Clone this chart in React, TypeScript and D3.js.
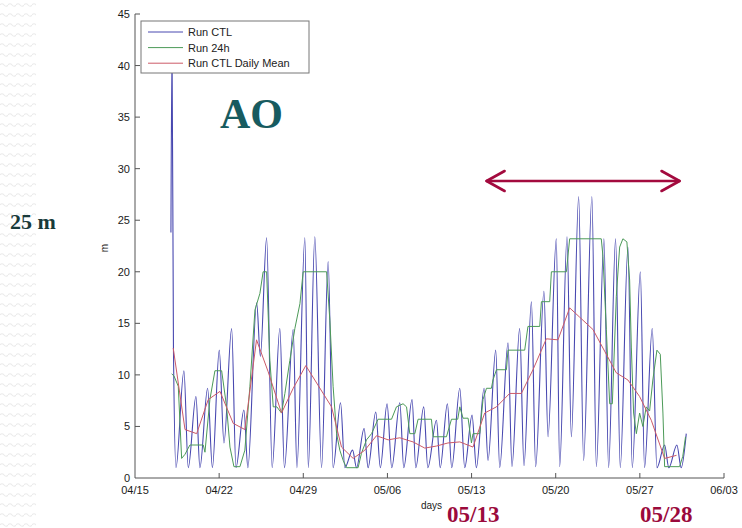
import React from "react";
import * as d3 from "d3";

// ---------- data ----------
const xTickDays = [0, 7, 14, 21, 28, 35, 42, 49];
const xTickLabels = ["04/15", "04/22", "04/29", "05/06", "05/13", "05/20", "05/27", "06/03"];
const yTicks = [0, 5, 10, 15, 20, 25, 30, 35, 40, 45];

// Run CTL (days since 04/15, metres) - peaks and troughs
const ctlDays = [
  2.99, 3.08, 3.2, 3.41, 4.07, 4.43, 5.07, 5.4, 6.04, 6.44, 7.01, 7.4, 8.04, 8.4, 9.06, 9.39,
  10.12, 10.43, 10.95, 11.41, 12.05, 12.43, 13.16, 13.47, 14.13, 14.42, 14.96, 15.52, 16.07, 16.48,
  17.1, 17.46, 18.1, 18.43, 19.06, 19.39, 20.03, 20.41, 20.97, 21.36, 22.03, 22.36, 23.05, 23.36,
  24.02, 24.36, 25.08, 25.39, 25.99, 26.35, 27.02, 27.43, 28.04, 28.4, 29.04, 29.37, 30.01, 30.34,
  31.03, 31.36, 32.0, 32.36, 32.98, 33.33, 34.02, 34.36, 35.05, 35.33, 35.94, 36.3, 36.91, 37.32,
  38.01, 38.38, 39.01, 39.4, 39.98, 40.37, 41.01, 41.37, 42.04, 42.39, 43.03, 43.42, 44.06, 44.41,
  45.08, 45.44, 45.86,
];
const ctlValues = [
  23.8, 42, 12.5, 1.0, 10.4, 1.0, 7.9, 1.0, 8.7, 1.0, 12.4, 3.4, 14.5, 1.0, 6.6, 1.0,
  17.0, 11.8, 23.3, 1.0, 14.5, 1.0, 14.4, 1.0, 23.3, 1.0, 23.4, 1.0, 21.0, 1.0,
  7.3, 1.0, 2.7, 1.0, 4.8, 1.0, 6.4, 1.0, 7.2, 1.0, 7.3, 1.0, 7.6, 1.0,
  6.9, 1.0, 5.6, 1.0, 7.2, 1.0, 8.7, 1.0, 6.1, 1.0, 8.7, 1.7, 12.4, 1.0,
  13.1, 1.1, 14.5, 1.2, 17.1, 1.1, 18.1, 4.0, 23.2, 1.1, 23.4, 4.0, 27.3, 1.7,
  27.3, 1.1, 23.2, 1.0, 23.2, 1.0, 22.4, 1.0, 20.0, 1.0, 14.5, 1.0, 3.2, 1.0,
  3.2, 1.0, 4.3,
];

// Run 24h
const h24Days = [
  3.05, 3.24, 3.6, 3.88, 4.16, 4.43, 4.57, 5.68, 5.82, 6.23, 6.65, 7.21, 7.62, 7.9, 8.23, 8.73,
  9.14, 9.56, 9.98, 10.39, 10.66, 10.95, 11.22, 11.5, 11.8, 12.19, 12.47, 12.88, 13.3, 13.72, 13.99,
  15.94, 16.21, 16.48, 16.77, 17.04, 17.32, 17.6, 18.56, 18.84, 19.26, 19.68, 20.22, 21.34, 21.75,
  22.3, 22.59, 22.86, 23.28, 23.55, 24.66, 24.8, 25.91, 26.33, 26.85, 27.02, 27.29, 27.71, 27.99,
  28.12, 28.68, 28.95, 29.24, 29.65, 29.78, 30.07, 30.9, 31.03, 32.42, 32.69, 33.67, 33.81, 34.5,
  34.64, 35.89, 36.16, 38.79, 38.93, 39.21, 39.49, 39.71, 40.04, 40.32, 40.59, 40.92, 41.15, 41.29,
  41.48, 41.71, 41.98, 42.25, 42.53, 42.81, 43.08, 43.42, 43.7, 43.92, 44.06, 45.3, 45.57, 45.8,
];
const h24Values = [
  10.1, 9.9, 8.9, 1.9, 2.3, 2.9, 3.2, 3.2, 2.5, 7.6, 10.4, 10.4, 6.9, 3.0, 1.1, 1.1,
  2.7, 8.9, 16.3, 17.9, 20.0, 20.0, 11.4, 6.9, 6.9, 6.3, 8.2, 11.4, 14.5, 16.9, 20.0,
  20.0, 15.3, 8.9, 4.3, 2.7, 1.7, 1.0, 1.0, 2.4, 3.7, 4.3, 5.7, 5.7, 6.9,
  7.2, 6.9, 4.3, 4.3, 5.7, 5.7, 4.0, 4.0, 5.7, 5.7, 6.9, 5.8, 5.8, 3.4,
  4.3, 4.3, 7.6, 8.7, 8.7, 9.5, 10.5, 10.5, 12.4, 12.4, 14.7, 14.7, 17.1, 17.1,
  20.0, 20.0, 23.2, 23.2, 21.5, 14.4, 7.2, 7.2, 17.6, 22.4, 23.2, 22.9, 19.2, 12.7,
  6.3, 4.3, 6.3, 5.0, 6.9, 6.5, 9.5, 12.4, 12.0, 6.3, 1.1, 1.1, 2.1, 4.0,
];

// Run CTL daily mean
const meanDays = [
  3.18, 4.16, 5.13, 6.09, 7.07, 8.17, 9.14, 10.11, 11.08, 12.19, 13.16, 14.21, 16.35, 17.18,
  18.15, 19.12, 20.09, 21.06, 22.03, 23.13, 24.11, 25.08, 26.04, 27.02, 28.12, 29.09, 30.07,
  31.17, 32.14, 33.11, 34.22, 35.19, 36.16, 36.99, 38.1, 39.07, 40.04, 41.01, 41.98, 42.95,
  44.06, 45.05,
];
const meanValues = [
  12.6, 4.7, 4.3, 7.6, 8.4, 5.3, 4.7, 13.4, 10.3, 6.3, 8.7, 10.9, 6.9, 3.0,
  1.9, 2.7, 4.1, 3.7, 3.9, 3.5, 2.9, 3.1, 3.4, 3.5, 3.0, 6.3, 6.9,
  8.2, 8.2, 10.5, 13.5, 13.4, 16.5, 15.6, 14.4, 12.3, 10.2, 9.5, 7.9, 5.6,
  1.9, 2.2,
];

const seriesNames = ["Run CTL", "Run 24h", "Run CTL Daily Mean"];
const seriesColors = ["#4848b0", "#4c9a58", "#cc5a68"];

// ---------- chart ----------
const W = 742;
const H = 528;
const AX_LEFT = 135;
const AX_RIGHT = 724;
const AX_TOP = 14;
const AX_BOTTOM = 478;

export default function App() {
  const x = d3.scaleLinear().domain([0, 49]).range([AX_LEFT, AX_RIGHT]);
  const y = d3.scaleLinear().domain([0, 45]).range([AX_BOTTOM, AX_TOP]);

  const ctlLine = d3
    .line<number>()
    .x((d, i) => x(ctlDays[i]))
    .y((d) => y(d))
    .curve(d3.curveMonotoneX);
  const linLine = (days: number[]) =>
    d3
      .line<number>()
      .x((d, i) => x(days[i]))
      .y((d) => y(d));

  const axisColor = "#555";
  const tickFont = "'Liberation Sans', Arial, Helvetica, sans-serif";
  const serif = "'Liberation Serif', 'Times New Roman', serif";

  const legendX = 141;
  const legendY = 21;

  const arrowY = 181;
  const arrowX1 = x(29.25);
  const arrowX2 = x(45.3);
  const arrowColor = "#a30a3e";

  return (
    <svg
      width={W}
      height={H}
      viewBox={`0 0 ${W} ${H}`}
      style={{ position: "fixed", left: 0, top: 0, background: "#fff" }}
    >
      <defs>
        <pattern id="waves" width="8" height="10" patternUnits="userSpaceOnUse">
          <path d="M0 5 Q2 2.5 4 5 T8 5" fill="none" stroke="#ebebeb" strokeWidth="1.2" />
        </pattern>
      </defs>
      <rect x={0} y={0} width={W} height={H} fill="#fff" />
      <rect x={0} y={0} width={36} height={H} fill="url(#waves)" />

      {/* data lines */}
      <path d={ctlLine(ctlValues) || ""} fill="none" stroke={seriesColors[0]} strokeWidth={1.1} />
      <path d={linLine(h24Days)(h24Values) || ""} fill="none" stroke={seriesColors[1]} strokeWidth={1} />
      <path d={linLine(meanDays)(meanValues) || ""} fill="none" stroke={seriesColors[2]} strokeWidth={1} />

      {/* axes */}
      <line x1={AX_LEFT} y1={AX_TOP} x2={AX_LEFT} y2={AX_BOTTOM} stroke={axisColor} strokeWidth={1} />
      <line x1={AX_LEFT} y1={AX_BOTTOM} x2={AX_RIGHT} y2={AX_BOTTOM} stroke={axisColor} strokeWidth={1} />
      {yTicks.map((t) => (
        <g key={"y" + t}>
          {t > 0 && (
            <line x1={AX_LEFT} x2={AX_LEFT + 5} y1={y(t)} y2={y(t)} stroke={axisColor} strokeWidth={1} />
          )}
          <text
            x={AX_LEFT - 5}
            y={y(t) + 4}
            textAnchor="end"
            fontFamily={tickFont}
            fontSize={11}
            fill="#1a1a1a"
          >
            {t}
          </text>
        </g>
      ))}
      {xTickDays.map((d, i) => (
        <g key={"x" + d}>
          {i > 0 && (
            <line x1={x(d)} x2={x(d)} y1={AX_BOTTOM} y2={AX_BOTTOM - 5} stroke={axisColor} strokeWidth={1} />
          )}
          <text
            x={x(d)}
            y={AX_BOTTOM + 16}
            textAnchor="middle"
            fontFamily={tickFont}
            fontSize={11}
            fill="#1a1a1a"
          >
            {xTickLabels[i]}
          </text>
        </g>
      ))}
      <text
        x={(AX_LEFT + AX_RIGHT) / 2 + 2}
        y={509}
        textAnchor="middle"
        fontFamily={tickFont}
        fontSize={10}
        fill="#222"
      >
        days
      </text>
      <text
        transform={`translate(108, ${(AX_TOP + AX_BOTTOM) / 2 + 2}) rotate(-90)`}
        textAnchor="middle"
        fontFamily={tickFont}
        fontSize={10}
        fill="#222"
      >
        m
      </text>

      {/* legend */}
      <rect x={legendX} y={legendY} width={168} height={52} fill="#fff" stroke="#777" strokeWidth={1} />
      {seriesNames.map((name, i) => {
        const cy = legendY + 11 + i * 15.6;
        return (
          <g key={name}>
            <line x1={legendX + 7} x2={legendX + 42} y1={cy} y2={cy} stroke={seriesColors[i]} strokeWidth={1} />
            <text x={legendX + 47} y={cy + 4} fontFamily={tickFont} fontSize={11} fill="#222">
              {name}
            </text>
          </g>
        );
      })}

      {/* annotations */}
      <text x={220} y={128} fontFamily={serif} fontWeight="bold" fontSize={42} fill="#175b60">
        AO
      </text>
      <text x={10} y={229} fontFamily={serif} fontWeight="bold" fontSize={22} fill="#183a3a">
        25 m
      </text>
      <g stroke={arrowColor} strokeWidth={2.6} fill="none" strokeLinecap="round" strokeLinejoin="round">
        <line x1={arrowX1} x2={arrowX2} y1={arrowY} y2={arrowY} />
        <polyline points={`${arrowX1 + 18},${arrowY - 10} ${arrowX1},${arrowY} ${arrowX1 + 18},${arrowY + 10}`} />
        <polyline points={`${arrowX2 - 18},${arrowY - 10} ${arrowX2},${arrowY} ${arrowX2 - 18},${arrowY + 10}`} />
      </g>
      <text x={447} y={522} fontFamily={serif} fontWeight="bold" fontSize={23} fill="#9b0a3c">
        05/13
      </text>
      <text x={640} y={522} fontFamily={serif} fontWeight="bold" fontSize={23} fill="#9b0a3c">
        05/28
      </text>
    </svg>
  );
}
